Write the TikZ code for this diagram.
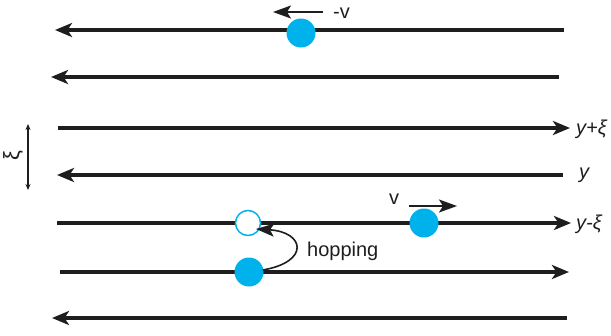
\documentclass[tikz,border=0pt]{standalone}
\usepackage{fontspec}
\setmainfont{Liberation Sans}
\usetikzlibrary{arrows.meta}
\definecolor{ball}{RGB}{0,178,236}
\definecolor{ink}{RGB}{30,30,30}
\begin{document}
\begin{tikzpicture}[x=1pt,y=-1pt,
  track/.style={draw=ink,line width=3.3pt,-{Stealth[length=17pt,width=14pt,inset=4.5pt]}},
  small/.style={draw=ink,line width=1.6pt,-{Stealth[length=18pt,width=13pt,inset=4pt]}},
  full/.style={circle,fill=ball,minimum size=29pt,inner sep=0pt},
  empty/.style={circle,draw=ball,line width=1.5pt,fill=white,minimum size=25pt,inner sep=0pt},
  lbl/.style={font=\fontsize{20}{24}\selectfont,text=ink,inner sep=0pt}]
\useasboundingbox (0,0) rectangle (611,335);
% track end points
\coordinate (a1) at (564,30);  \coordinate (b1) at (55,30);
\coordinate (a2) at (559,77);  \coordinate (b2) at (51,77);
\coordinate (a3) at (58,128);  \coordinate (b3) at (570,128);
\coordinate (a4) at (563,175); \coordinate (b4) at (57,175);
\coordinate (a5) at (57,223);  \coordinate (b5) at (571,223);
\coordinate (a6) at (60,272);  \coordinate (b6) at (569,272);
\coordinate (a7) at (567,318); \coordinate (b7) at (52,318);
\draw[track] (a1) -- (b1);
\draw[track] (a2) -- (b2);
\draw[track] (a3) -- (b3);
\draw[track] (a4) -- (b4);
\draw[track] (a5) -- (b5);
\draw[track] (a6) -- (b6);
\draw[track] (a7) -- (b7);
% particles
\node[full]  (p1) at (301,33) {};
\node[empty] (h)  at (248,223) {};
\node[full]  (p2) at (424,223) {};
\node[full]  (p3) at (249,272) {};
% velocity arrows
\coordinate (m1) at (323,12); \coordinate (m2) at (273,12);
\draw[small] (m1) -- (m2);
\node[lbl,anchor=west] (mv) at (333,13) {-v};
\coordinate (v1) at (409,206); \coordinate (v2) at (457,206);
\draw[small] (v1) -- (v2);
\node[lbl] (vl) at (394,199) {v};
% hopping
\coordinate (he) at (256,229);
\draw[small] (p3.east) ++(-1,-2) coordinate (hs)
  .. controls (310,262) and (305,232) .. (he);
\node[lbl,anchor=west] (hl) at (307,251) {hopping};
% xi scale
\coordinate (x1) at (28,124); \coordinate (x2) at (28,190);
\draw[draw=ink,line width=1.2pt,{Stealth[length=6pt,width=5pt]}-{Stealth[length=6pt,width=5pt]}] (x1) -- (x2);
\node[lbl,rotate=90,font=\fontsize{22}{24}\selectfont] (xi) at (13,156) {ξ};
% labels
\node[lbl,anchor=west] (l1) at (576,129) {\itshape y+ξ};
\node[lbl,anchor=west] (l2) at (579,175) {\itshape y};
\node[lbl,anchor=west] (l3) at (576,224) {\itshape y-ξ};
\end{tikzpicture}
\end{document}
